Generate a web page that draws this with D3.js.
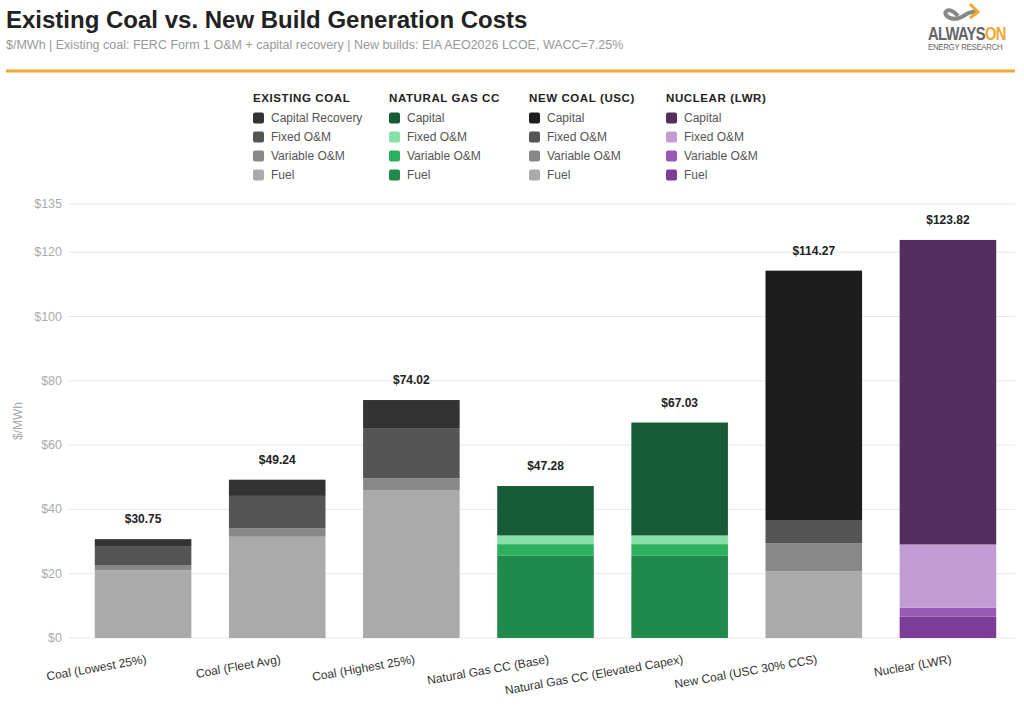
<!DOCTYPE html>
<html><head><meta charset="utf-8">
<script src="https://cdn.jsdelivr.net/npm/d3@7"></script>
<style>body{margin:0;background:#fff;font-family:"Helvetica Neue",Arial,"Liberation Sans",sans-serif}</style>
</head><body>
<script>
var categories = ['Coal (Lowest 25%)', 'Coal (Fleet Avg)', 'Coal (Highest 25%)', 'Natural Gas CC (Base)',
  'Natural Gas CC (Elevated Capex)', 'New Coal (USC 30% CCS)', 'Nuclear (LWR)']
var groups = ['coal', 'coal', 'coal', 'gas', 'gas', 'newcoal', 'nuclear']
var fuel = [21.1, 31.5, 46.0, 25.7, 25.7, 20.7, 6.6]
var variable = [1.6, 2.6, 3.7, 3.5, 3.5, 8.7, 2.8]
var fixed = [5.9, 10.1, 15.6, 2.7, 2.7, 7.1, 19.7]
var capital = [2.15, 5.04, 8.72, 15.38, 35.13, 77.77, 94.72]
var totals = [30.75, 49.24, 74.02, 47.28, 67.03, 114.27, 123.82]
var yTicks = [0, 20, 40, 60, 80, 100, 120, 135]

var colors = {
  coal: ['#aaaaaa', '#888888', '#555555', '#333333'],
  gas: ['#1f8a4c', '#2bb05e', '#86e0a8', '#175c36'],
  newcoal: ['#aaaaaa', '#888888', '#555555', '#1c1c1c'],
  nuclear: ['#7d3c98', '#9b59b6', '#c39bd3', '#522d5e']
}
var legendCols = [
  { title: 'EXISTING COAL', key: 'coal', items: ['Capital Recovery', 'Fixed O&M', 'Variable O&M', 'Fuel'] },
  { title: 'NATURAL GAS CC', key: 'gas', items: ['Capital', 'Fixed O&M', 'Variable O&M', 'Fuel'] },
  { title: 'NEW COAL (USC)', key: 'newcoal', items: ['Capital', 'Fixed O&M', 'Variable O&M', 'Fuel'] },
  { title: 'NUCLEAR (LWR)', key: 'nuclear', items: ['Capital', 'Fixed O&M', 'Variable O&M', 'Fuel'] }
]

var width = 1024, height = 712
var svg = d3.select('body').append('svg').attr('width', width).attr('height', height)

svg.append('text').attr('x', 6).attr('y', 28).attr('font-size', 24).attr('font-weight', 'bold')
  .attr('fill', '#222').text('Existing Coal vs. New Build Generation Costs')
svg.append('text').attr('x', 6).attr('y', 49).attr('font-size', 12.5).attr('fill', '#999')
  .text('$/MWh | Existing coal: FERC Form 1 O&M + capital recovery | New builds: EIA AEO2026 LCOE, WACC=7.25%')
svg.append('rect').attr('x', 6).attr('y', 69.5).attr('width', 1009).attr('height', 3).attr('fill', '#f0a830')

// logo
var logo = svg.append('g').attr('transform', 'translate(928,0)')
logo.append('path').attr('d', 'M30,16 C20,4 12,14 22,18 C34,22 38,10 48,12').attr('fill', 'none')
  .attr('stroke', '#888').attr('stroke-width', 4)
logo.append('path').attr('d', 'M42,4 L50,12 L42,18').attr('fill', 'none').attr('stroke', '#f0a830').attr('stroke-width', 3)
var lt = logo.append('g').attr('transform', 'scale(0.82,1)')
lt.append('text').attr('x', 0).attr('y', 40).attr('font-size', 18).attr('font-weight', 'bold')
  .attr('letter-spacing', -0.8)
  .html('<tspan fill="#666">ALWAYS</tspan><tspan fill="#f0a830">ON</tspan>')
lt.append('text').attr('x', 0).attr('y', 50).attr('font-size', 9.5).attr('fill', '#666')
  .attr('letter-spacing', -0.3).text('ENERGY RESEARCH')

// legend
var legX = [253, 389, 529, 666]
legendCols.forEach(function (c, i) {
  var g = svg.append('g').attr('transform', 'translate(' + legX[i] + ',0)')
  g.append('text').attr('y', 102).attr('font-size', 11.5).attr('font-weight', 'bold').attr('letter-spacing', 0.6)
    .attr('fill', '#222').text(c.title)
  c.items.forEach(function (it, j) {
    var y = 118 + j * 19
    g.append('rect').attr('x', 0).attr('y', y - 5.5).attr('width', 11).attr('height', 11).attr('rx', 2)
      .attr('fill', colors[c.key][3 - j])
    g.append('text').attr('x', 18).attr('y', y + 4).attr('font-size', 12).attr('fill', '#555').text(it)
  })
})

var x = d3.scaleBand().domain(categories).range([76, 1015]).paddingInner(0.28).paddingOuter(0.14)
var y = d3.scaleLinear().domain([0, 135]).range([638, 204])

var grid = svg.append('g')
grid.selectAll('line').data(yTicks).join('line')
  .attr('x1', 68).attr('x2', 1015).attr('y1', d => y(d)).attr('y2', d => y(d))
  .attr('stroke', '#e8e8e8')
grid.selectAll('text').data(yTicks).join('text')
  .attr('x', 62).attr('y', d => y(d) + 4).attr('text-anchor', 'end').attr('font-size', 12.5)
  .attr('fill', '#aaa').text(d => '$' + d)
svg.append('text').attr('transform', 'translate(22,421) rotate(-90)').attr('text-anchor', 'middle')
  .attr('font-size', 12).attr('fill', '#aaa').text('$/MWh')

var series = [fuel, variable, fixed, capital]
categories.forEach(function (cat, i) {
  var base = 0
  series.forEach(function (s, k) {
    svg.append('rect').attr('x', x(cat)).attr('width', x.bandwidth())
      .attr('y', y(base + s[i])).attr('height', y(base) - y(base + s[i]))
      .attr('fill', colors[groups[i]][k])
    base += s[i]
  })
  svg.append('text').attr('x', x(cat) + x.bandwidth() / 2).attr('y', y(totals[i]) - 16)
    .attr('text-anchor', 'middle').attr('font-size', 12).attr('font-weight', 'bold').attr('fill', '#222')
    .text('$' + totals[i].toFixed(2))
  svg.append('text').attr('transform', 'translate(' + (x(cat) + x.bandwidth() / 2 + 4) + ',663) rotate(-10)')
    .attr('text-anchor', 'end').attr('font-size', 12).attr('fill', '#333').text(cat)
})
</script>
</body></html>
